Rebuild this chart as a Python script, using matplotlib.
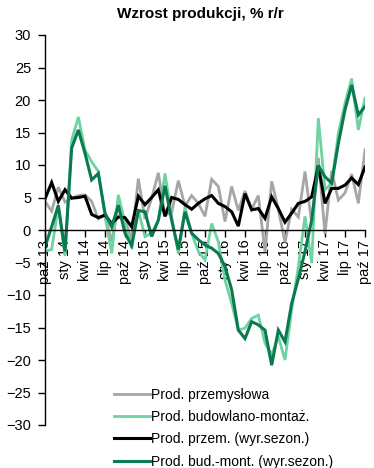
import matplotlib
matplotlib.use("Agg")
import matplotlib.pyplot as plt
import numpy as np

plt.rcParams['font.family'] = ['Liberation Sans', 'DejaVu Sans']

months = ["paź 13", "lis 13", "gru 13",
          "sty 14", "lut 14", "mar 14", "kwi 14", "maj 14", "cze 14", "lip 14", "sie 14", "wrz 14", "paź 14", "lis 14", "gru 14",
          "sty 15", "lut 15", "mar 15", "kwi 15", "maj 15", "cze 15", "lip 15", "sie 15", "wrz 15", "paź 15", "lis 15", "gru 15",
          "sty 16", "lut 16", "mar 16", "kwi 16", "maj 16", "cze 16", "lip 16", "sie 16", "wrz 16", "paź 16", "lis 16", "gru 16",
          "sty 17", "lut 17", "mar 17", "kwi 17", "maj 17", "cze 17", "lip 17", "sie 17", "wrz 17", "paź 17"]

prod_przem = [4.4, 2.9, 6.6,
              4.3, 4.9, 5.3, 5.4, 4.4, 1.7, 2.3, -1.8, 4.0, 1.6, -1.5, 7.9,
              1.7, 4.9, 8.8, 2.3, 2.7, 7.6, 3.7, 5.3, 4.1, 2.1, 7.8, 6.7,
              1.3, 6.7, 3.0, 6.0, 3.2, 5.3, -3.4, 7.5, 3.2, -1.9, 3.2, 2.0,
              9.0, 1.1, 11.1, -0.6, 9.1, 4.6, 5.7, 8.6, 4.1, 12.3]

prod_bud = [-3.3, -3.0, 3.6,
            -4.0, 13.8, 17.4, 12.3, 10.5, 9.0, 2.1, -3.6, 5.4, 1.0, -2.8, 3.0,
            -1.0, -0.5, 1.5, 8.7, 2.0, -3.6, 3.5, -0.5, -3.3, -4.6, 1.0, -1.8,
            -7.7, -11.3, -15.4, -15.1, -13.6, -13.1, -17.4, -19.2, -16.4, -20.0, -12.3, -5.6,
            2.1, -5.1, 17.2, 6.2, 7.2, 14.9, 19.5, 23.3, 15.4, 20.3]

prod_przem_sa = [4.8, 7.3, 4.4,
                 6.2, 4.9, 5.0, 5.2, 2.4, 1.9, 2.3, 1.0, 2.0, 1.9, 0.5, 5.2,
                 3.9, 5.0, 6.2, 2.1, 5.0, 4.7, 3.9, 3.2, 4.1, 4.8, 5.3, 4.1,
                 3.6, 2.8, 0.6, 5.6, 3.1, 3.3, 1.8, 5.1, 3.3, 1.2, 2.6, 4.1,
                 4.4, 5.1, 9.9, 4.1, 6.4, 6.4, 6.9, 8.0, 7.0, 9.7]

prod_bud_sa = [-2.6, 0.5, 3.8,
               -3.3, 12.6, 15.4, 11.8, 7.7, 8.7, 2.6, 0.5, 3.8, -0.5, -2.4, 3.0,
               2.8, -1.0, 1.5, 6.8, 1.5, -3.0, 2.8, -0.5, -1.5, -2.3, -2.8, -3.6,
               -5.6, -9.2, -15.4, -16.7, -14.1, -14.6, -15.4, -20.8, -15.4, -17.2, -11.3, -7.5,
               -3.3, 1.5, 9.9, 8.2, 7.2, 13.3, 18.5, 22.3, 17.7, 19.0]

series_labels = ["Prod. przemysłowa", "Prod. budowlano-montaż.",
                 "Prod. przem. (wyr.sezon.)", "Prod. bud.-mont. (wyr.sezon.)"]
title = "Wzrost produkcji, % r/r"

fig = plt.figure(figsize=(3.74, 4.68), dpi=100)
ax = fig.add_axes([45/374, 1-425/468, 320/374, 390/468])

x = np.arange(len(months))
l1, = ax.plot(x, prod_przem, color="#A6A6A6", lw=2.0, solid_joinstyle='miter')
l2, = ax.plot(x, prod_bud, color="#6DD3A0", lw=2.0, solid_joinstyle='miter')
l3, = ax.plot(x, prod_przem_sa, color="#000000", lw=2.2, solid_joinstyle='miter')
l4, = ax.plot(x, prod_bud_sa, color="#0B7A50", lw=2.2, solid_joinstyle='miter')

for s in ['top', 'right']:
    ax.spines[s].set_visible(False)
ax.spines['bottom'].set_position(('data', 0))
ax.spines['bottom'].set_linewidth(1.0)
ax.spines['left'].set_linewidth(1.0)

ax.set_xlim(0, len(months) - 1)
ax.set_ylim(-30, 30)
ax.set_yticks(np.arange(-30, 31, 5))
ax.set_xticks(x[::3])
ax.set_xticklabels(months[::3])
ax.tick_params(axis='y', direction='out', length=5, width=1.0, labelsize=10.5, pad=5)
ax.tick_params(axis='x', direction='out', length=5, width=1.0, labelsize=10.5, pad=2,
               labelrotation=90)
for lab in ax.get_xticklabels():
    lab.set_va('top')
    lab.set_ha('center')

fig.text(0.535, 1-14/468, title, ha='center', va='center', fontsize=11, fontweight='bold')

leg = fig.legend([l1, l2, l3, l4], series_labels, loc='upper left',
                 bbox_to_anchor=(108/374, 1-382/468), frameon=False,
                 fontsize=10, handlelength=2.6, handletextpad=0.1,
                 labelspacing=0.6, borderaxespad=0)

fig.savefig("out.png", dpi=100)
